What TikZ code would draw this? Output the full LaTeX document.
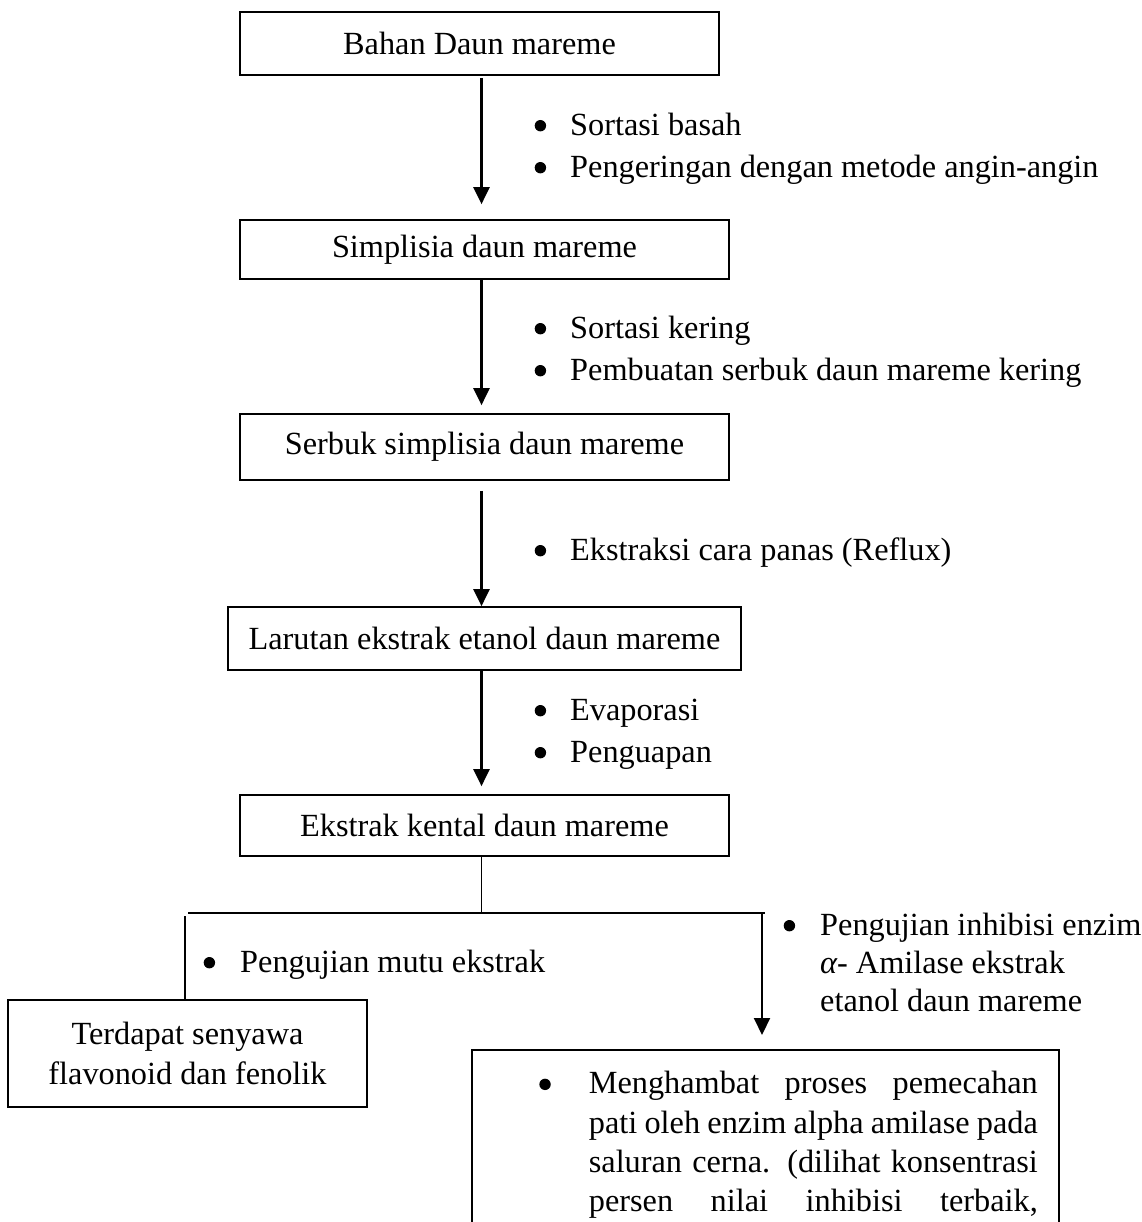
\documentclass[tikz,border=0pt]{standalone}
\usepackage{fontspec}
\setmainfont{Liberation Serif}
\usetikzlibrary{arrows.meta}
\tikzset{
  every node/.style={font=\fontsize{32.3}{42}\selectfont},
  box/.style={draw, line width=1.7pt, inner sep=0pt},
  arr/.style={line width=2.5pt, -{Triangle[width=16pt,length=17pt]}},
  lnk/.style={line width=1.5pt},
  lbl/.style={anchor=north west, inner sep=0pt, align=left},
}
\newcommand{\bdot}{\tikz[baseline={(0pt,-9.5pt)}]\fill (0pt,0pt) circle (5.7pt);}
\newcommand{\bl}[1]{\makebox[#1][l]{\bdot}}
\newcommand{\st}{\rule{0pt}{30pt}}
\begin{document}
\begin{tikzpicture}[x=1pt,y=-1pt]
\fill[white] (0,0) rectangle (1141,1222);
\useasboundingbox (0,0) rectangle (1141,1222);
\clip (0,0) rectangle (1141,1222);

\coordinate (ax) at (481.5,0);

\node[box, minimum width=479pt, minimum height=63pt] (b1) at (479.5,43.5) {Bahan Daun mareme};
\node[box, minimum width=489pt, minimum height=59pt] (b2) at (484.5,249.5) {Simplisia daun mareme};
\node[box, minimum width=489pt, minimum height=66pt] (b3) at (484.5,447) {Serbuk simplisia daun mareme};
\node[box, minimum width=513pt, minimum height=63pt] (b4) at (484.5,638.5) {Larutan ekstrak etanol daun mareme};
\node[box, minimum width=489pt, minimum height=61pt] (b5) at (484.5,825.5) {Ekstrak kental daun mareme};

\node[box, minimum width=359pt, minimum height=107pt, align=center,
      font=\fontsize{32.3}{40}\selectfont] (lb) at (187.5,1053.5)
      {Terdapat senyawa\\flavonoid dan fenolik};

\node[box, anchor=north west, font=\fontsize{32.3}{39.3}\selectfont] (res) at (471,1049)
 {\parbox[t][260pt][t]{587pt}{\rule{0pt}{44pt}\hspace*{67.5pt}\bl{49.5pt}\makebox[449pt][s]{Menghambat proses pemecahan}\\
 \hspace*{117pt}\makebox[449pt][s]{pati oleh enzim alpha amilase pada}\\
 \hspace*{117pt}\makebox[449pt][s]{saluran cerna. (dilihat konsentrasi}\\
 \hspace*{117pt}\makebox[449pt][s]{persen nilai inhibisi terbaik,}}};

% labels
\node[lbl] (l1) at (534.5,105) {\st\bl{35.5pt}Sortasi basah\\\bl{35.5pt}Pengeringan dengan metode angin-angin};
\node[lbl] (l2) at (534.5,308) {\st\bl{35.5pt}Sortasi kering\\\bl{35.5pt}Pembuatan serbuk daun mareme kering};
\node[lbl] (l3) at (534.5,530) {\st\bl{35.5pt}Ekstraksi cara panas (Reflux)};
\node[lbl] (l4) at (534.5,690) {\st\bl{35.5pt}Evaporasi\\\bl{35.5pt}Penguapan};
\node[lbl] (l5) at (203.5,942) {\st\bl{36.5pt}Pengujian mutu ekstrak};
\node[lbl, font=\fontsize{32.3}{38}\selectfont] (l6) at (783.5,905)
 {\st\bl{36.5pt}Pengujian inhibisi enzim\\\hspace*{36.5pt}{\itshape α}- Amilase ekstrak\\\hspace*{36.5pt}etanol daun mareme};

% arrows
\draw[arr, shorten <=2pt, shorten >=15pt] (b1.south -| ax) -- (b2.north -| ax);
\draw[arr, shorten >=8pt] (b2.south -| ax) -- (b3.north -| ax);
\draw[arr, shorten <=10pt] (b3.south -| ax) -- (b4.north -| ax);
\draw[arr, shorten >=8pt] (b4.south -| ax) -- (b5.north -| ax);

% branching
\coordinate (jc) at (481.5,913);
\coordinate (jl) at (188,913);
\coordinate (jr) at (765,913);
\coordinate (lv) at (185,916);
\coordinate (rv) at (762,913);
\draw[lnk] (b5.south -| ax) -- (jc);
\draw[lnk] (jl) -- (jr);
\draw[lnk] (lv) -- (lb.north -| lv);
\draw[arr, line width=2pt, shorten >=14pt] (rv) -- (res.north -| rv);
\end{tikzpicture}
\end{document}
